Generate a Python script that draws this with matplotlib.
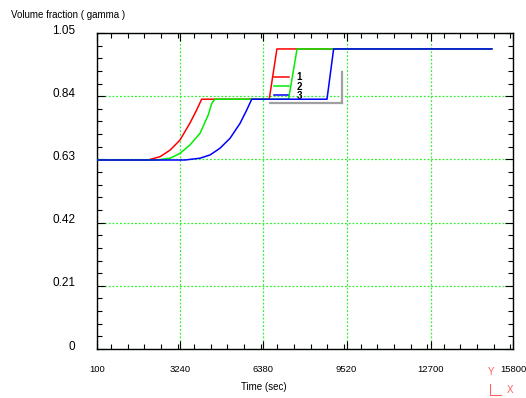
import matplotlib
matplotlib.use("Agg")
import matplotlib.pyplot as plt
from matplotlib.lines import Line2D
from matplotlib.ticker import MultipleLocator, FixedLocator
import matplotlib.transforms as mtransforms

plt.rcParams['font.family'] = ['Liberation Sans', 'DejaVu Sans']

# Gamma volume fraction vs. time for three cases
time_1 = [100, 2020, 2480, 2860, 3230, 3610, 3860, 4050, 6600, 6890, 15000]
frac_1 = [0.628, 0.628, 0.639, 0.661, 0.694, 0.751, 0.794, 0.830, 0.830, 0.997, 0.997]

time_2 = [100, 2360, 2860, 3230, 3610, 3990, 4300, 4430, 4550, 7330, 7650, 15000]
frac_2 = [0.628, 0.628, 0.634, 0.650, 0.678, 0.717, 0.778, 0.816, 0.830, 0.830, 0.997, 0.997]

time_3 = [100, 3420, 3990, 4370, 4740, 5120, 5500, 5750, 5940, 8780, 9030, 15000]
frac_3 = [0.628, 0.628, 0.634, 0.645, 0.667, 0.700, 0.750, 0.794, 0.830, 0.830, 0.997, 0.997]

series_labels = ["1", "2", "3"]
series_colors = ["#ff0000", "#00ee00", "#0000ff"]

x_ticks = [100, 3240, 6380, 9520, 12700, 15800]
y_ticks = [0, 0.21, 0.42, 0.63, 0.84, 1.05]
y_tick_labels = ["0", "0.21", "0.42", "0.63", "0.84", "1.05"]

W, H = 526, 398
fig = plt.figure(figsize=(W / 100, H / 100), dpi=100)
ax = fig.add_axes([97 / W, 1 - 349 / H, 416 / W, 316 / H])

for t, v, lab, col in zip([time_1, time_2, time_3], [frac_1, frac_2, frac_3],
                          series_labels, series_colors):
    ax.plot(t, v, color=col, lw=1.1, label=lab, zorder=3)

ax.set_xlim(x_ticks[0], x_ticks[-1])
ax.set_ylim(y_ticks[0], y_ticks[-1])
ax.xaxis.set_major_locator(FixedLocator(x_ticks))
ax.xaxis.set_minor_locator(MultipleLocator(628))
ax.yaxis.set_major_locator(FixedLocator(y_ticks))
ax.yaxis.set_minor_locator(MultipleLocator(0.042))
ax.set_xticklabels([str(x) for x in x_ticks])
ax.set_yticklabels(y_tick_labels)

ax.tick_params(which='both', direction='in', top=True, right=True, color='black')
ax.tick_params(which='major', length=6, width=0.8)
ax.tick_params(which='minor', length=3.5, width=0.8)
ax.tick_params(axis='x', which='major', labelsize=6.8, pad=11.5)
ax.tick_params(axis='y', which='major', labelsize=8.5, pad=15.5)

# shift the y tick labels a little upward
offset = mtransforms.ScaledTranslation(0, 4 / 100, fig.dpi_scale_trans)
for lbl in ax.get_yticklabels():
    lbl.set_transform(lbl.get_transform() + offset)

for s in ax.spines.values():
    s.set_linewidth(1.0)
    s.set_color('black')

ax.grid(True, which='major', color='#33ee33', linestyle=(0, (1.5, 1.5)), lw=0.9, zorder=1)
ax.set_axisbelow(True)

ax.set_xlabel("Time (sec)", fontsize=7, x=0.4, labelpad=6)

fig.text(11 / W, 1 - 15 / H, "Volume fraction ( gamma )", fontsize=7, ha='left', va='center')

leg = ax.legend(loc='center left', bbox_to_anchor=(273.5 / W, 1 - 86.5 / H),
                bbox_transform=fig.transFigure, frameon=False,
                prop={'weight': 'bold', 'size': 7}, handlelength=1.55,
                handletextpad=0.8, labelspacing=-0.1, borderpad=0, borderaxespad=0)
leg.set_zorder(2)

# legend drop shadow
shadow_kw = dict(color='#a0a0a0', lw=1.6, transform=fig.transFigure)
fig.add_artist(Line2D([270 / W, 342 / W], [1 - 103.3 / H, 1 - 103.3 / H], **shadow_kw))
fig.add_artist(Line2D([342 / W, 342 / W], [1 - 71.5 / H, 1 - 103.3 / H], **shadow_kw))

# axis orientation marker
mark_col = '#ff6060'
fig.text(491.5 / W, 1 - 372 / H, "Y", color=mark_col, fontsize=7, ha='center', va='center')
fig.text(510 / W, 1 - 390 / H, "X", color=mark_col, fontsize=7, ha='center', va='center')
fig.add_artist(Line2D([490 / W, 490 / W, 501 / W], [1 - 384 / H, 1 - 395 / H, 1 - 395 / H],
                      color=mark_col, lw=0.8, transform=fig.transFigure))

fig.savefig("out.png", dpi=100)
